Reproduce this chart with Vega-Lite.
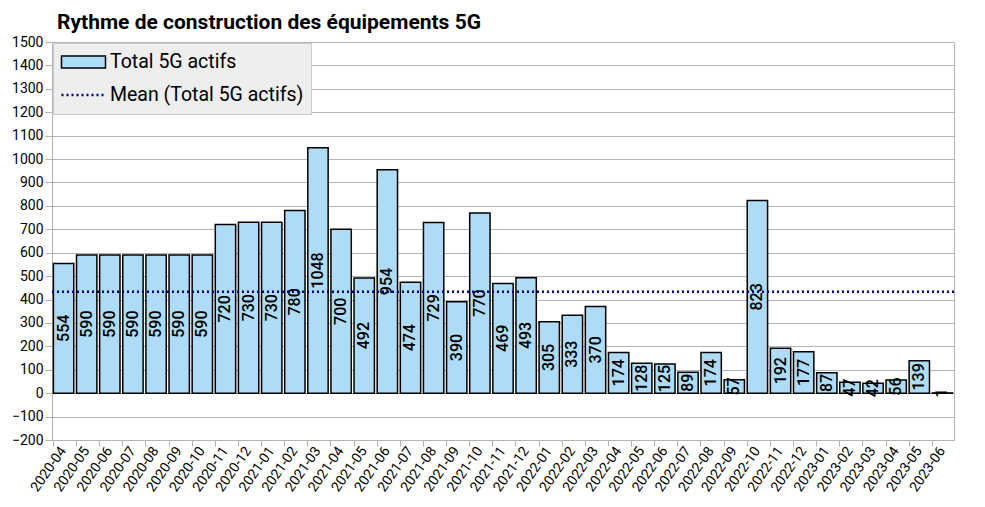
{
  "$schema": "https://vega.github.io/schema/vega-lite/v6.json",
  "description": "Rythme de construction des équipements 5G, bars per month with the mean as a dotted rule.",
  "autosize": "none",
  "width": 902,
  "height": 398,
  "padding": {"left": 52, "top": 42, "right": 31, "bottom": 67},
  "title": {
    "text": "Rythme de construction des équipements 5G",
    "anchor": "start",
    "frame": "group",
    "dx": 5,
    "offset": 2,
    "font": "Roboto",
    "fontSize": 21,
    "fontWeight": "bold",
    "color": "black"
  },
  "data": {
    "values": [
      {"month": "2020-04", "value": 554},
      {"month": "2020-05", "value": 590},
      {"month": "2020-06", "value": 590},
      {"month": "2020-07", "value": 590},
      {"month": "2020-08", "value": 590},
      {"month": "2020-09", "value": 590},
      {"month": "2020-10", "value": 590},
      {"month": "2020-11", "value": 720},
      {"month": "2020-12", "value": 730},
      {"month": "2021-01", "value": 730},
      {"month": "2021-02", "value": 780},
      {"month": "2021-03", "value": 1048},
      {"month": "2021-04", "value": 700},
      {"month": "2021-05", "value": 492},
      {"month": "2021-06", "value": 954},
      {"month": "2021-07", "value": 474},
      {"month": "2021-08", "value": 729},
      {"month": "2021-09", "value": 390},
      {"month": "2021-10", "value": 770},
      {"month": "2021-11", "value": 469},
      {"month": "2021-12", "value": 493},
      {"month": "2022-01", "value": 305},
      {"month": "2022-02", "value": 333},
      {"month": "2022-03", "value": 370},
      {"month": "2022-04", "value": 174},
      {"month": "2022-05", "value": 128},
      {"month": "2022-06", "value": 125},
      {"month": "2022-07", "value": 89},
      {"month": "2022-08", "value": 174},
      {"month": "2022-09", "value": 57},
      {"month": "2022-10", "value": 823},
      {"month": "2022-11", "value": 192},
      {"month": "2022-12", "value": 177},
      {"month": "2023-01", "value": 87},
      {"month": "2023-02", "value": 47},
      {"month": "2023-03", "value": 42},
      {"month": "2023-04", "value": 56},
      {"month": "2023-05", "value": 139},
      {"month": "2023-06", "value": 1}
    ]
  },
  "layer": [
    {
      "mark": {"type": "bar", "stroke": "black", "strokeWidth": 1.5},
      "encoding": {
        "x": {
          "field": "month",
          "type": "nominal",
          "sort": null,
          "title": null,
          "scale": {"paddingInner": 0.12, "paddingOuter": 0.06},
          "axis": {
            "bandPosition": 0,
            "labelAngle": -55,
            "labelAlign": "right",
            "labelBaseline": "middle",
            "labelPadding": 2,
            "labelFont": "Roboto",
            "labelFontSize": 14,
            "labelColor": "black",
            "domainColor": "#b3b3b3",
            "tickColor": "#b3b3b3",
            "tickSize": 6,
            "grid": false
          }
        },
        "y": {
          "field": "value",
          "type": "quantitative",
          "title": null,
          "scale": {"domain": [-200, 1500], "nice": false, "zero": false},
          "axis": {
            "values": [-200, -100, 0, 100, 200, 300, 400, 500, 600, 700, 800, 900, 1000, 1100, 1200, 1300, 1400, 1500],
            "format": "d",
            "labelFont": "Roboto",
            "labelFontSize": 14,
            "labelColor": "black",
            "labelPadding": 2,
            "domainColor": "#b3b3b3",
            "tickColor": "#b3b3b3",
            "tickSize": 7,
            "gridColor": "#b3b3b3",
            "labelFlush": false
          }
        },
        "fill": {
          "datum": "Total 5G actifs",
          "type": "nominal",
          "scale": {
            "domain": ["Total 5G actifs", "Mean (Total 5G actifs)"],
            "range": ["#aedcf6", "transparent"]
          },
          "legend": {
            "title": null,
            "orient": "top-left",
            "offset": 1,
            "padding": 7,
            "fillColor": "#eeeeee",
            "strokeColor": "#cccccc",
            "symbolSize": 1936,
            "symbolOpacity": 1,
            "symbolType": "M-1,0H1V0.27H-1V-0.27H1V0",
            "clipHeight": 24,
            "labelFont": "Roboto",
            "labelFontSize": 19.5,
            "labelColor": "black",
            "labelLimit": 400,
            "labelOffset": 3,
            "rowPadding": 9
          }
        }
      }
    },
    {
      "mark": {
        "type": "text",
        "angle": 270,
        "align": "center",
        "baseline": "middle",
        "font": "Roboto",
        "fontSize": 16,
        "fontWeight": 500,
        "color": "black"
      },
      "encoding": {
        "x": {"field": "month", "type": "nominal", "sort": null},
        "y": {
          "field": "value",
          "type": "quantitative",
          "scale": {"domain": [-400, 3000], "nice": false, "zero": false},
          "axis": null
        },
        "text": {"field": "value", "type": "quantitative"}
      }
    },
    {
      "mark": {"type": "rule", "strokeDash": [2, 3], "strokeWidth": 2.5},
      "encoding": {
        "y": {
          "aggregate": "mean",
          "field": "value",
          "type": "quantitative",
          "scale": {"domain": [-200, 1500], "nice": false, "zero": false},
          "axis": null
        },
        "stroke": {
          "datum": "Mean (Total 5G actifs)",
          "type": "nominal",
          "scale": {
            "domain": ["Total 5G actifs", "Mean (Total 5G actifs)"],
            "range": ["black", "#000080"]
          },
          "legend": {
            "title": null,
            "orient": "top-left",
            "offset": 1,
            "padding": 7,
            "fillColor": "#eeeeee",
            "strokeColor": "#cccccc",
            "symbolSize": 1936,
            "symbolOpacity": 1,
            "symbolType": "M-1,0H1V0.27H-1V-0.27H1V0",
            "clipHeight": 24,
            "labelFont": "Roboto",
            "labelFontSize": 19.5,
            "labelColor": "black",
            "labelLimit": 400,
            "labelOffset": 3,
            "rowPadding": 9
          }
        }
      }
    },
    {
      "mark": {"type": "rule", "opacity": 0},
      "encoding": {
        "y": {
          "aggregate": "mean",
          "field": "value",
          "type": "quantitative",
          "scale": {"domain": [-200, 1500], "nice": false, "zero": false},
          "axis": null
        },
        "strokeDash": {
          "datum": "Mean (Total 5G actifs)",
          "type": "nominal",
          "scale": {
            "domain": ["Total 5G actifs", "Mean (Total 5G actifs)"],
            "range": [[0, 44, 112], [2, 3, 2, 3, 2, 3, 2, 3, 2, 3, 2, 3, 2, 3, 2, 3, 2, 3, 0, 111]]
          },
          "legend": {
            "title": null,
            "orient": "top-left",
            "offset": 1,
            "padding": 7,
            "fillColor": "#eeeeee",
            "strokeColor": "#cccccc",
            "symbolSize": 1936,
            "symbolOpacity": 1,
            "symbolType": "M-1,0H1V0.27H-1V-0.27H1V0",
            "clipHeight": 24,
            "labelFont": "Roboto",
            "labelFontSize": 19.5,
            "labelColor": "black",
            "labelLimit": 400,
            "labelOffset": 3,
            "rowPadding": 9
          }
        },
        "strokeWidth": {
          "datum": "Mean (Total 5G actifs)",
          "type": "nominal",
          "scale": {
            "domain": ["Total 5G actifs", "Mean (Total 5G actifs)"],
            "range": [1.5, 2.5]
          },
          "legend": {
            "title": null,
            "orient": "top-left",
            "offset": 1,
            "padding": 7,
            "fillColor": "#eeeeee",
            "strokeColor": "#cccccc",
            "symbolSize": 1936,
            "symbolOpacity": 1,
            "symbolType": "M-1,0H1V0.27H-1V-0.27H1V0",
            "clipHeight": 24,
            "labelFont": "Roboto",
            "labelFontSize": 19.5,
            "labelColor": "black",
            "labelLimit": 400,
            "labelOffset": 3,
            "rowPadding": 9
          }
        }
      }
    }
  ],
  "resolve": {"scale": {"y": "independent"}},
  "config": {
    "view": {"stroke": "#b3b3b3", "strokeWidth": 1},
    "background": "white"
  }
}
